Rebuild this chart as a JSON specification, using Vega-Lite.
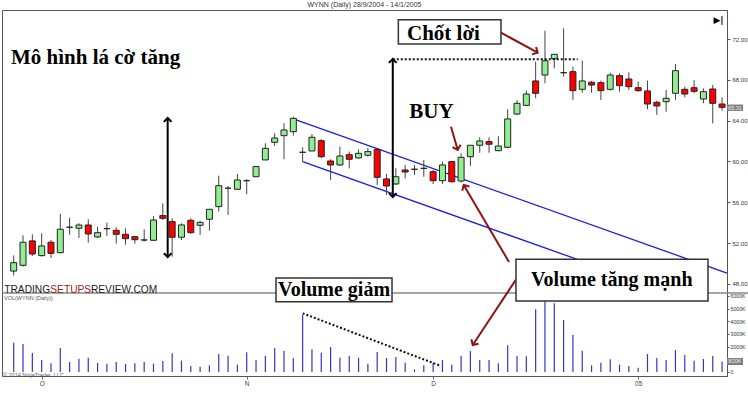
{
"$schema": "https://vega.github.io/schema/vega-lite/v6.json",
"width": 725,
"height": 366,
"padding": {"left": 1, "top": 1, "right": 0, "bottom": 0},
"autosize": {"type": "pad"},
"background": "white",
"title": {"text": "WYNN (Daily) 28/9/2004 - 14/1/2005", "fontSize": 7, "font": "Liberation Sans", "fontWeight": "normal", "color": "#333", "offset": 2},
"config": {"view": {"stroke": "#555", "strokeWidth": 1}},
"datasets": {
"bars": [
{"i":0,"open":49.27,"high":50.8,"low":48.82,"close":50.09,"volume":2313},
{"i":1,"open":49.83,"high":52.77,"low":49.7,"close":52.09,"volume":2210},
{"i":2,"open":52.22,"high":52.87,"low":50.75,"close":50.94,"volume":1500},
{"i":3,"open":50.78,"high":52.97,"low":50.68,"close":51.73,"volume":947},
{"i":4,"open":52.09,"high":52.31,"low":50.55,"close":51.0,"volume":684},
{"i":5,"open":51.07,"high":54.86,"low":51.0,"close":53.36,"volume":1894},
{"i":6,"open":53.56,"high":54.5,"low":52.84,"close":53.56,"volume":789},
{"i":7,"open":53.46,"high":53.95,"low":52.51,"close":53.78,"volume":1052},
{"i":8,"open":53.78,"high":54.34,"low":52.05,"close":52.9,"volume":1131},
{"i":9,"open":52.61,"high":53.62,"low":52.51,"close":53.03,"volume":710},
{"i":10,"open":53.42,"high":54.01,"low":52.71,"close":53.42,"volume":658},
{"i":11,"open":53.26,"high":53.56,"low":51.95,"close":52.87,"volume":789},
{"i":12,"open":52.87,"high":53.46,"low":51.85,"close":52.44,"volume":631},
{"i":13,"open":52.64,"high":52.71,"low":51.95,"close":52.34,"volume":684},
{"i":14,"open":52.31,"high":53.36,"low":52.15,"close":52.31,"volume":789},
{"i":15,"open":52.28,"high":54.66,"low":52.22,"close":54.27,"volume":658},
{"i":16,"open":54.7,"high":55.91,"low":54.27,"close":54.44,"volume":868},
{"i":17,"open":54.11,"high":54.44,"low":50.68,"close":52.58,"volume":1473},
{"i":18,"open":52.58,"high":53.95,"low":52.31,"close":53.78,"volume":894},
{"i":19,"open":54.24,"high":54.44,"low":52.9,"close":53.03,"volume":473},
{"i":20,"open":53.75,"high":54.18,"low":52.8,"close":54.04,"volume":421},
{"i":21,"open":54.34,"high":55.32,"low":53.23,"close":55.32,"volume":526},
{"i":22,"open":55.58,"high":58.61,"low":55.09,"close":57.63,"volume":1420},
{"i":23,"open":57.38,"high":57.6,"low":54.76,"close":57.38,"volume":1289},
{"i":24,"open":57.28,"high":58.78,"low":57.21,"close":58.19,"volume":579},
{"i":25,"open":58.12,"high":58.26,"low":56.79,"close":58.12,"volume":1552},
{"i":26,"open":58.51,"high":59.56,"low":58.45,"close":59.5,"volume":947},
{"i":27,"open":60.15,"high":61.78,"low":60.15,"close":61.29,"volume":1289},
{"i":28,"open":61.88,"high":62.76,"low":61.52,"close":62.3,"volume":1894},
{"i":29,"open":62.53,"high":63.74,"low":60.22,"close":63.09,"volume":1684},
{"i":30,"open":62.92,"high":64.39,"low":62.53,"close":64.23,"volume":1078},
{"i":31,"open":60.9,"high":61.39,"low":59.98,"close":60.9,"volume":4499},
{"i":32,"open":61.03,"high":62.7,"low":61.03,"close":62.37,"volume":1789},
{"i":33,"open":62.04,"high":62.18,"low":60.32,"close":60.47,"volume":1526},
{"i":34,"open":60.05,"high":60.22,"low":58.19,"close":59.66,"volume":1973},
{"i":35,"open":59.66,"high":61.45,"low":59.56,"close":60.54,"volume":1131},
{"i":36,"open":60.67,"high":60.97,"low":59.33,"close":60.22,"volume":1263},
{"i":37,"open":60.35,"high":61.19,"low":60.28,"close":60.8,"volume":1131},
{"i":38,"open":60.61,"high":61.32,"low":60.47,"close":60.97,"volume":658},
{"i":39,"open":61.19,"high":61.35,"low":57.7,"close":58.45,"volume":1578},
{"i":40,"open":58.29,"high":58.78,"low":56.72,"close":57.6,"volume":1105},
{"i":41,"open":57.8,"high":59.33,"low":57.7,"close":58.51,"volume":1184},
{"i":42,"open":59.17,"high":59.66,"low":58.35,"close":58.97,"volume":736},
{"i":43,"open":59.24,"high":59.66,"low":58.68,"close":59.24,"volume":210},
{"i":44,"open":59.33,"high":60.15,"low":58.51,"close":59.33,"volume":526},
{"i":45,"open":59.0,"high":59.17,"low":57.8,"close":58.12,"volume":736},
{"i":46,"open":58.12,"high":59.99,"low":57.8,"close":59.66,"volume":947},
{"i":47,"open":59.99,"high":59.99,"low":57.93,"close":58.02,"volume":579},
{"i":48,"open":58.09,"high":60.8,"low":57.93,"close":60.41,"volume":1289},
{"i":49,"open":60.47,"high":61.59,"low":59.56,"close":61.59,"volume":1657},
{"i":50,"open":61.59,"high":62.37,"low":60.86,"close":62.01,"volume":947},
{"i":51,"open":61.95,"high":62.37,"low":60.86,"close":61.69,"volume":947},
{"i":52,"open":61.06,"high":62.47,"low":61.0,"close":61.52,"volume":684},
{"i":53,"open":61.39,"high":65.12,"low":61.29,"close":64.17,"volume":2104},
{"i":54,"open":64.65,"high":66.03,"low":64.56,"close":65.7,"volume":1263},
{"i":55,"open":65.5,"high":66.94,"low":65.44,"close":66.61,"volume":1237},
{"i":56,"open":67.89,"high":69.78,"low":66.19,"close":66.68,"volume":4946},
{"i":57,"open":68.47,"high":72.81,"low":67.66,"close":69.87,"volume":6100},
{"i":58,"open":70.07,"high":70.5,"low":69.13,"close":70.5,"volume":5420},
{"i":59,"open":68.7,"high":73.05,"low":68.31,"close":68.7,"volume":4104},
{"i":60,"open":68.8,"high":69.29,"low":66.03,"close":66.94,"volume":2920},
{"i":61,"open":67.07,"high":69.87,"low":66.74,"close":67.89,"volume":1684},
{"i":62,"open":67.76,"high":67.89,"low":66.74,"close":67.49,"volume":526},
{"i":63,"open":67.72,"high":67.92,"low":66.03,"close":66.94,"volume":736},
{"i":64,"open":67.07,"high":68.7,"low":66.94,"close":68.47,"volume":1000},
{"i":65,"open":68.41,"high":68.64,"low":66.84,"close":67.43,"volume":579},
{"i":66,"open":68.08,"high":68.74,"low":67.0,"close":67.33,"volume":473},
{"i":67,"open":67.23,"high":67.82,"low":66.84,"close":66.94,"volume":342},
{"i":68,"open":66.91,"high":67.92,"low":65.12,"close":65.63,"volume":1420},
{"i":69,"open":65.8,"high":65.96,"low":64.56,"close":65.44,"volume":1105},
{"i":70,"open":65.86,"high":67.0,"low":64.88,"close":66.19,"volume":947},
{"i":71,"open":66.68,"high":69.55,"low":66.03,"close":68.9,"volume":1736},
{"i":72,"open":67.07,"high":67.33,"low":66.29,"close":66.61,"volume":1342},
{"i":73,"open":67.23,"high":67.98,"low":66.68,"close":66.88,"volume":894},
{"i":74,"open":66.12,"high":67.17,"low":65.7,"close":66.84,"volume":1026},
{"i":75,"open":67.1,"high":67.49,"low":63.74,"close":65.7,"volume":1263},
{"i":76,"open":65.63,"high":66.29,"low":64.98,"close":65.31,"volume":820}
],
"channel": [{"i":30.07,"p":64.16,"i2":76.53,"p2":49.07},{"i":31.0,"p":59.98,"i2":70.45,"p2":47.17}],
"sep": [{"i":-1.255,"i2":78.9,"p":47.12}],
"vArrows": [{"i":16.52,"p":64.26,"p2":50.64},{"i":40.67,"p":70.04,"p2":56.52}],
"dotPrice": [{"i":40.67,"i2":60.51,"p":70.02}],
"rArrows": [
{"id":"a","i":56.22,"p":70.66,"i2":52.28,"p2":72.62},
{"id":"b","i":47.64,"p":61.13,"i2":46.92,"p2":63.41},
{"id":"c","i":48.28,"p":57.7,"i2":53.14,"p2":50.16},
{"id":"d","i":49.25,"p":42.02,"i2":53.89,"p2":48.44}
],
"boxes": [
{"i":41.27,"i2":52.28,"p":73.89,"p2":71.51},
{"i":53.89,"i2":74.49,"p":50.42,"p2":46.33},
{"i":28.14,"i2":40.59,"p":48.59,"p2":46.27}
],
"bigText": [
{"text":"Mô hình lá cờ tăng","i":-0.29,"p":69.55},
{"text":"Chốt lời","i":42.2,"p":71.93},
{"text":"BUY","i":42.45,"p":64.29}
],
"volText": [
{"text":"Volume tăng mạnh","i":55.5,"p":47.8},
{"text":"Volume giảm","i":28.36,"p":46.82}
],
"watermark": [
{"text":"TRADING","i":-1.01,"p":47.09},
{"text":"SETUPS","i":3.93,"p":47.09},
{"text":"REVIEW.COM","i":8.29,"p":47.09}
],
"smallText": [
{"text":"VOL(WYNN (Daily))","i":-1.04,"p":46.43},
{"text":"© 2014 NinjaTrader, LLC","i":-1.15,"p":38.89}
],
"icon": [{"text":"▶|","i":75.62,"p":73.89}],
"priceTag": [{"i":76.53,"i2":78.25,"p":65.58,"p2":64.95,"im":77.39,"pm":65.27,"text":"65.31"}],
"dotVol": [{"i":31.0,"i2":45.85,"v":4633,"v2":474}],
"volTag": [{"i":76.53,"i2":78.25,"v":1105,"v2":553,"im":77.39,"vm":829,"text":"820K"}]
},
"encoding": {"x": {"field": "i", "type": "quantitative", "scale": {"domain": [-1.255, 76.53], "nice": false, "zero": false, "padding": 0}, "axis": {"values": [3, 25, 45, 67], "labelExpr": "datum.value == 3 ? 'O' : datum.value == 25 ? 'N' : datum.value == 45 ? 'D' : '05'", "title": null, "grid": false, "domain": false, "tickSize": 3, "tickColor": "#666", "labelFontSize": 6.5, "labelColor": "#444", "labelFont": "Liberation Sans", "labelPadding": 1}}},
"layer": [
{
"encoding": {"y": {"field": "volume", "type": "quantitative", "scale": {"domain": [-316, 28579], "nice": false, "zero": false}, "axis": {"orient": "right", "values": [0, 1000, 2000, 3000, 4000, 5000, 6000], "labelExpr": "datum.value == 0 ? '0' : datum.value == 1000 ? '' : datum.value + 'K'", "labelOverlap": false, "title": null, "grid": false, "domain": false, "tickSize": 2, "tickColor": "#555", "labelFontSize": 5.2, "labelColor": "#333", "labelFont": "Liberation Sans", "labelPadding": 1}}},
"layer": [
{"data": {"name": "bars"}, "mark": {"type": "rule", "color": "#3535c8", "strokeWidth": 1.2}, "encoding": {"y2": {"datum": 0}}},
{"data": {"name": "dotVol"}, "mark": {"type": "rule", "color": "#111", "strokeWidth": 2, "strokeDash": [2, 2]}, "encoding": {"x2": {"field": "i2"}, "y": {"field": "v", "type": "quantitative", "scale": {"domain": [-316, 28579], "nice": false, "zero": false}, "axis": {"title": null}}, "y2": {"field": "v2"}}},
{"data": {"name": "volTag"}, "mark": {"type": "rect", "fill": "#7f7f7f"}, "encoding": {"x2": {"field": "i2"}, "y": {"field": "v", "type": "quantitative", "scale": {"domain": [-316, 28579], "nice": false, "zero": false}, "axis": {"title": null}}, "y2": {"field": "v2"}}},
{"data": {"name": "volTag"}, "mark": {"type": "text", "fontSize": 5.5, "font": "Liberation Sans", "color": "#eee", "align": "center", "baseline": "middle"}, "encoding": {"x": {"field": "im", "type": "quantitative", "scale": {"domain": [-1.255, 76.53], "nice": false, "zero": false, "padding": 0}}, "y": {"field": "vm", "type": "quantitative", "scale": {"domain": [-316, 28579], "nice": false, "zero": false}, "axis": {"title": null}}, "text": {"field": "text"}}}
]
},
{
"encoding": {"y": {"field": "p", "type": "quantitative", "scale": {"domain": [38.987, 74.841], "nice": false, "zero": false}, "axis": {"orient": "right", "values": [48, 50, 52, 54, 56, 58, 60, 62, 64, 66, 68, 70, 72, 74], "format": ".2f", "labelOverlap": false, "title": null, "grid": false, "domain": true, "domainColor": "#555", "tickSize": 3, "tickColor": "#555", "labelFontSize": 6, "labelColor": "#333", "labelFont": "Liberation Sans", "labelPadding": 2}}},
"layer": [
{"data": {"name": "sep"}, "mark": {"type": "rule", "color": "#888", "strokeWidth": 1.5}, "encoding": {"x2": {"field": "i2"}}},
{"data": {"name": "channel"}, "mark": {"type": "rule", "color": "#1a1ae6", "strokeWidth": 1.3}, "encoding": {"x2": {"field": "i2"}, "y2": {"field": "p2"}}},
{"data": {"name": "bars"}, "mark": {"type": "rule", "color": "#444", "strokeWidth": 1}, "encoding": {"y": {"field": "low", "type": "quantitative", "scale": {"domain": [38.987, 74.841], "nice": false, "zero": false}, "axis": {"title": null}}, "y2": {"field": "high"}}},
{"data": {"name": "bars"}, "mark": {"type": "bar", "width": 6, "stroke": "#222", "strokeWidth": 1}, "encoding": {"y": {"field": "open", "type": "quantitative", "scale": {"domain": [38.987, 74.841], "nice": false, "zero": false}, "axis": {"title": null}}, "y2": {"field": "close"}, "fill": {"condition": {"test": "datum.close > datum.open", "value": "#90ee90"}, "value": "#ff0000"}}},
{"data": {"name": "dotPrice"}, "mark": {"type": "rule", "color": "#111", "strokeWidth": 2, "strokeDash": [2, 2]}, "encoding": {"x2": {"field": "i2"}}},
{"data": {"name": "vArrows"}, "mark": {"type": "rule", "color": "#000", "strokeWidth": 2}, "encoding": {"y2": {"field": "p2"}}},
{"data": {"name": "vArrows"}, "mark": {"type": "point", "shape": "M-1,1L0,0L1,1", "filled": false, "stroke": "#000", "strokeWidth": 2, "size": 60, "opacity": 1}},
{"data": {"name": "vArrows"}, "mark": {"type": "point", "shape": "M-1,-1L0,0L1,-1", "filled": false, "stroke": "#000", "strokeWidth": 2, "size": 60, "opacity": 1}, "encoding": {"y": {"field": "p2", "type": "quantitative", "scale": {"domain": [38.987, 74.841], "nice": false, "zero": false}, "axis": {"title": null}}}},
{"data": {"name": "rArrows"}, "mark": {"type": "rule", "color": "#8b1414", "strokeWidth": 2}, "encoding": {"x2": {"field": "i2"}, "y2": {"field": "p2"}}},
{"data": {"name": "rArrows"}, "transform": [{"filter": "datum.id == 'a'"}], "mark": {"type": "point", "shape": "M-1,1L0,0L1,1", "filled": false, "stroke": "#8b1414", "strokeWidth": 2, "size": 70, "opacity": 1, "angle": 118.6}},
{"data": {"name": "rArrows"}, "transform": [{"filter": "datum.id == 'b'"}], "mark": {"type": "point", "shape": "M-1,1L0,0L1,1", "filled": false, "stroke": "#8b1414", "strokeWidth": 2, "size": 70, "opacity": 1, "angle": 164}},
{"data": {"name": "rArrows"}, "transform": [{"filter": "datum.id == 'c'"}], "mark": {"type": "point", "shape": "M-1,1L0,0L1,1", "filled": false, "stroke": "#8b1414", "strokeWidth": 2, "size": 70, "opacity": 1, "angle": 329.5}},
{"data": {"name": "rArrows"}, "transform": [{"filter": "datum.id == 'd'"}], "mark": {"type": "point", "shape": "M-1,1L0,0L1,1", "filled": false, "stroke": "#8b1414", "strokeWidth": 2, "size": 70, "opacity": 1, "angle": 212.1}},
{"data": {"name": "boxes"}, "mark": {"type": "rect", "fill": "white", "stroke": "#333", "strokeWidth": 1.5}, "encoding": {"x2": {"field": "i2"}, "y2": {"field": "p2"}}},
{"data": {"name": "bigText"}, "mark": {"type": "text", "font": "Liberation Serif", "fontWeight": "bold", "fontSize": 21, "color": "#000", "align": "left", "baseline": "alphabetic"}, "encoding": {"text": {"field": "text"}}},
{"data": {"name": "volText"}, "mark": {"type": "text", "font": "Liberation Serif", "fontWeight": "bold", "fontSize": 20, "color": "#000", "align": "left", "baseline": "alphabetic"}, "encoding": {"text": {"field": "text"}}},
{"data": {"name": "watermark"}, "mark": {"type": "text", "font": "Liberation Sans", "fontSize": 10.2, "align": "left", "baseline": "alphabetic"}, "encoding": {"text": {"field": "text"}, "color": {"condition": {"test": "datum.text == 'SETUPS'", "value": "#9b1b22"}, "value": "#1a1a1a"}}},
{"data": {"name": "smallText"}, "mark": {"type": "text", "font": "Liberation Sans", "fontSize": 5.5, "color": "#555", "align": "left", "baseline": "alphabetic"}, "encoding": {"text": {"field": "text"}}},
{"data": {"name": "icon"}, "mark": {"type": "text", "font": "DejaVu Sans", "fontWeight": "bold", "fontSize": 9, "color": "#000", "align": "center", "baseline": "middle"}, "encoding": {"text": {"field": "text"}}},
{"data": {"name": "priceTag"}, "mark": {"type": "rect", "fill": "#7f7f7f"}, "encoding": {"x2": {"field": "i2"}, "y2": {"field": "p2"}}},
{"data": {"name": "priceTag"}, "mark": {"type": "text", "fontSize": 5.5, "font": "Liberation Sans", "color": "#eee", "align": "center", "baseline": "middle"}, "encoding": {"x": {"field": "im", "type": "quantitative", "scale": {"domain": [-1.255, 76.53], "nice": false, "zero": false, "padding": 0}}, "y": {"field": "pm", "type": "quantitative", "scale": {"domain": [38.987, 74.841], "nice": false, "zero": false}, "axis": {"title": null}}, "text": {"field": "text"}}}
]
}
],
"resolve": {"scale": {"y": "independent"}}
}
